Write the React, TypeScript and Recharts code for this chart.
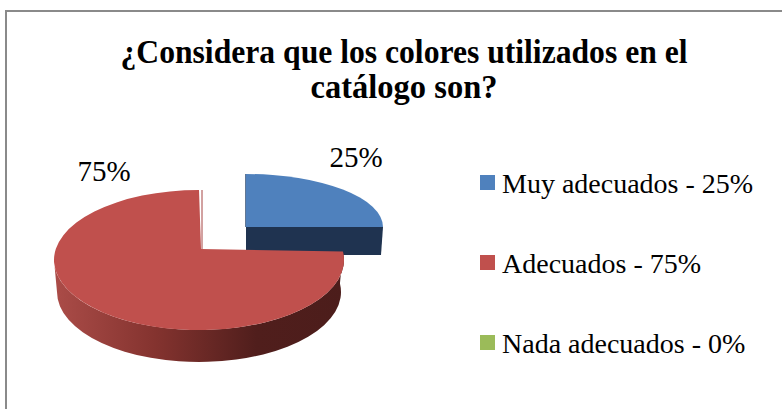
import { PieChart, Pie, Legend } from "recharts";

const categories = ["Muy adecuados", "Adecuados", "Nada adecuados"];
const percentages = [25, 75, 0];
const colors = ["#4f81bd", "#c0504d", "#9bbb59"];
const titleLines = ["¿Considera que los colores utilizados en el", "catálogo son?"];

const tableData = categories.map((name, i) => ({
  name,
  value: percentages[i],
  fill: colors[i],
}));

const serif = "'Liberation Serif', serif";

// elliptical 3D look: the pie angles come from recharts, only the rim is custom
function rimPoint(e: any, angle: number, dropY = 0) {
  const rad = (angle * Math.PI) / 180;
  return {
    x: e.x + e.rx * Math.cos(rad),
    y: e.y + dropY - e.ry * Math.sin(rad),
  };
}

function Slice3D(props: any) {
  const { cx, cy, startAngle, endAngle, fill, outerRadius } = props;
  if (Math.abs(startAngle - endAngle) < 0.01) return null;
  const isBlue = fill === colors[0];

  if (isBlue) {
    const ax = cx + 45;
    const ay = cy - 22;
    const e = { x: ax, y: ay, rx: outerRadius - 8, ry: 53 };
    const a = rimPoint(e, startAngle);
    const b = rimPoint(e, endAngle);
    return (
      <g>
        <path d={`M${ax} ${ay} L${b.x} ${b.y} L${b.x - 2} ${b.y + 28} L${ax} ${ay + 28} Z`} fill="#1f3350" />
        <path d={`M${ax} ${ay} L${a.x} ${a.y}`} stroke="#2c4a70" strokeWidth={1.5} fill="none" />
        <path d={`M${ax} ${ay} L${a.x} ${a.y} A${e.rx} ${e.ry} 0 0 1 ${b.x} ${b.y} Z`} fill={fill} />
      </g>
    );
  }

  const e = { x: cx - 2, y: cy + 11, rx: outerRadius, ry: 70 };
  const low = { x: cx - 2, y: cy + 43, rx: outerRadius - 3, ry: 70 };
  const right = rimPoint(e, startAngle + 7);
  const top = rimPoint(e, endAngle);
  const left = rimPoint(e, -180);
  const lowLeft = rimPoint(low, -180);
  const lowRight = rimPoint(low, startAngle + 7);
  return (
    <g>
      <path
        d={`M${right.x} ${right.y} A${e.rx} ${e.ry} 0 1 1 ${left.x} ${left.y} L${lowLeft.x} ${lowLeft.y} A${low.rx} ${low.ry} 0 1 0 ${lowRight.x} ${lowRight.y} Z`}
        fill="url(#redWall)"
      />
      <path d={`M${cx + 1} ${cy} L${cx + 1} ${top.y}`} stroke="#a54542" strokeWidth={1} fill="none" />
      <path
        d={`M${cx} ${cy} L${right.x} ${right.y} A${e.rx} ${e.ry} 0 1 1 ${top.x} ${top.y} Z`}
        fill={fill}
      />
    </g>
  );
}

const labelSpots: Record<string, { x: number; y: number }> = {
  "Muy adecuados": { x: 356, y: 167 },
  Adecuados: { x: 104, y: 181 },
};

function SliceLabel(props: any) {
  const spot = labelSpots[props.name];
  if (!spot || !props.value) return null;
  return (
    <text x={spot.x} y={spot.y} textAnchor="middle" fontFamily={serif} fontSize={29} fill="#000">
      {`${props.value}%`}
    </text>
  );
}

function LegendList({ payload }: any) {
  return (
    <div style={{ position: "relative", width: 300, height: 240 }}>
      {(payload ?? []).map((item: any, i: number) => (
        <div
          key={item.value}
          style={{ position: "absolute", left: 0, top: i * 80, display: "flex", alignItems: "center", height: 34 }}
        >
          <span style={{ width: 15, height: 15, background: colors[i], marginRight: 7, marginTop: -3 }} />
          <span style={{ fontFamily: serif, fontSize: 28, color: "#000", whiteSpace: "nowrap" }}>
            {`${item.value} - ${percentages[i]}%`}
          </span>
        </div>
      ))}
    </div>
  );
}

export default function App() {
  return (
    <div style={{ position: "fixed", left: 0, top: 0, width: 782, height: 409, background: "#fff", overflow: "hidden" }}>
      <div
        style={{
          position: "absolute",
          left: 5,
          top: 10,
          width: 800,
          height: 420,
          border: "2px solid #8a8a8a",
          boxSizing: "border-box",
        }}
      />
      <PieChart
        width={782}
        height={409}
        margin={{ top: 0, right: 0, bottom: 0, left: 0 }}
        style={{ position: "absolute", left: 0, top: 0 }}
      >
        <defs>
          <linearGradient id="redWall" gradientUnits="userSpaceOnUse" x1="54" y1="0" x2="343" y2="0">
            <stop offset="0" stopColor="#ab4c48" />
            <stop offset="0.35" stopColor="#84332f" />
            <stop offset="0.7" stopColor="#501e1c" />
            <stop offset="1" stopColor="#4c1d1b" />
          </linearGradient>
        </defs>
        <text x={404} y={63} textAnchor="middle" fontFamily={serif} fontWeight="bold" fontSize={34} textLength={567} lengthAdjust="spacingAndGlyphs">
          {titleLines[0]}
        </text>
        <text x={404} y={98} textAnchor="middle" fontFamily={serif} fontWeight="bold" fontSize={34} textLength={187} lengthAdjust="spacingAndGlyphs">
          {titleLines[1]}
        </text>
        <Pie
          data={tableData}
          dataKey="value"
          nameKey="name"
          cx={201}
          cy={249}
          outerRadius={145}
          startAngle={90}
          endAngle={-270}
          stroke="none"
          shape={Slice3D}
          label={SliceLabel}
          labelLine={false}
          isAnimationActive={false}
        />
        <Legend
          layout="vertical"
          itemSorter={null}
          content={<LegendList />}
          wrapperStyle={{ position: "absolute", left: 480, top: 167, width: 300 }}
        />
      </PieChart>
    </div>
  );
}
